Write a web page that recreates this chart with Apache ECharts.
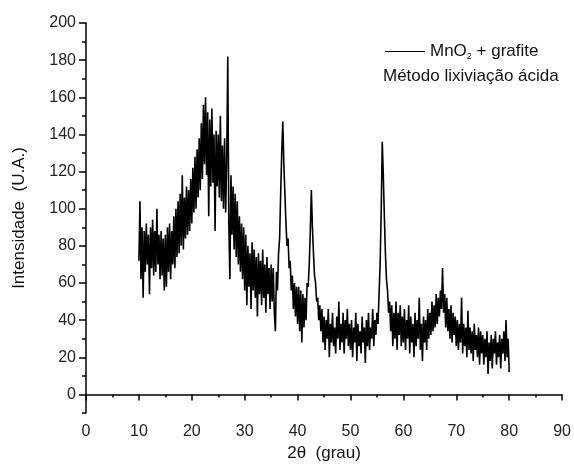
<!DOCTYPE html>
<html style="height: 100%">
<head>
    <meta charset="utf-8">
    <title>DRX MnO2 + grafite</title>
</head>
<body style="height: 100%; margin: 0; background: #fff">
<div id="container" style="width: 574px; height: 467px"></div>
<script type="text/javascript" src="https://cdn.jsdelivr.net/npm/echarts@6/dist/echarts.min.js"></script>
<script type="text/javascript">
    // 2theta grid: first angle and step (degrees)
    var angleStart = 10;
    var angleStep = 0.2;

    // intensity, one row = 5 degrees (25 points)
    var intensity = [
        72, 104, 62, 90, 52, 88, 66, 92, 70, 86, 54, 90, 68, 94, 64, 88, 66, 100, 70, 86, 62, 88, 64, 84, 56,           // 10
        86, 58, 90, 66, 92, 62, 88, 70, 96, 68, 100, 74, 104, 76, 108, 80, 118, 78, 106, 84, 112, 86, 110, 88, 116,     // 15
        92, 122, 98, 128, 100, 132, 106, 138, 110, 146, 116, 156, 124, 160, 118, 152, 96, 148, 112, 154, 114, 140, 88, 142, 112, // 20
        140, 106, 150, 104, 134, 100, 138, 98, 126, 182, 92, 62, 118, 86, 112, 78, 108, 74, 104, 70, 96, 66, 92, 62, 90, // 25
        56, 86, 48, 80, 58, 76, 46, 82, 56, 78, 52, 74, 42, 76, 54, 72, 48, 78, 52, 70, 44, 74, 54, 68, 46,             // 30
        70, 50, 68, 44, 34, 66, 56, 76, 84, 108, 130, 147, 124, 108, 92, 80, 84, 68, 72, 56, 64, 46, 60, 42, 58,        // 35
        38, 58, 34, 56, 28, 54, 36, 52, 40, 60, 58, 70, 88, 110, 90, 76, 64, 60, 50, 52, 40, 48, 34, 46, 28,            // 40
        42, 24, 40, 30, 46, 20, 38, 28, 44, 26, 36, 22, 42, 30, 50, 24, 38, 28, 44, 22, 40, 30, 46, 26, 38,             // 45
        24, 40, 20, 36, 28, 44, 18, 38, 26, 34, 22, 42, 28, 36, 17, 40, 26, 44, 24, 36, 30, 46, 26, 40, 32,             // 50
        44, 38, 54, 70, 98, 136, 118, 96, 76, 62, 56, 44, 50, 34, 48, 26, 44, 30, 50, 24, 44, 32, 48, 26, 42,           // 55
        28, 46, 24, 40, 30, 48, 22, 42, 28, 38, 20, 44, 26, 40, 30, 52, 24, 38, 18, 42, 28, 40, 24, 46, 30,             // 60
        44, 32, 50, 34, 48, 36, 54, 38, 52, 42, 56, 46, 68, 44, 54, 36, 52, 34, 46, 30, 48, 28, 44, 32, 42,             // 65
        26, 40, 24, 38, 28, 52, 22, 38, 26, 36, 20, 45, 24, 36, 22, 34, 18, 38, 24, 32, 20, 36, 16, 34, 22,             // 70
        32, 16, 30, 20, 34, 11, 28, 18, 32, 14, 30, 22, 34, 16, 28, 20, 32, 14, 30, 22, 34, 18, 40, 20, 30,             // 75
        12                                                                                                              // 80
    ];

    var yMajorTicks = [0, 20, 40, 60, 80, 100, 120, 140, 160, 180, 200];
    var yMinorTicks = [-10, 10, 30, 50, 70, 90, 110, 130, 150, 170, 190];

    var seriesName = 'MnO2 + grafite';
    var subtitle = 'Método lixiviação ácida';

    var points = intensity.map(function (v, i) {
        return [+(angleStart + i * angleStep).toFixed(2), v];
    });

    var font = 'Liberation Sans, Arial, sans-serif';
    var myChart = echarts.init(document.getElementById('container'));

    var option = {
        animation: false,
        backgroundColor: '#fff',
        grid: {left: 86, right: 8, top: 23, bottom: 54},
        title: {
            text: subtitle,
            left: 378, top: 63,
            textStyle: {fontFamily: font, fontSize: 17, fontWeight: 'normal', color: '#111'}
        },
        legend: {
            left: 380, top: 38,
            icon: 'rect', itemWidth: 40, itemHeight: 1, itemGap: 4,
            data: [seriesName],
            formatter: function () { return 'MnO{sub|2} + grafite'; },
            textStyle: {
                fontFamily: font, fontSize: 17, color: '#111',
                rich: {sub: {fontFamily: font, fontSize: 9, color: '#111', padding: [10, 0, 0, 0]}}
            }
        },
        xAxis: {
            type: 'value', min: 0, max: 90, interval: 10,
            name: '2θ  (grau)', nameLocation: 'middle', nameGap: 31,
            nameTextStyle: {fontFamily: font, fontSize: 17, color: '#111'},
            axisLine: {lineStyle: {color: '#000', width: 1.5}},
            axisTick: {length: 6, lineStyle: {color: '#000', width: 1.5}},
            minorTick: {show: true, splitNumber: 2, length: 3, lineStyle: {color: '#000', width: 1.5}},
            axisLabel: {fontFamily: font, fontSize: 16, color: '#222', margin: 11},
            splitLine: {show: false}
        },
        yAxis: [{
            type: 'value', min: -10, max: 200,
            name: 'Intensidade  (U.A.)', nameLocation: 'middle', nameGap: 58,
            nameTextStyle: {fontFamily: font, fontSize: 17, color: '#111'},
            axisLine: {show: true, lineStyle: {color: '#000', width: 1.5}},
            axisTick: {show: true, length: 7, customValues: yMajorTicks, lineStyle: {color: '#000', width: 1.5}},
            axisLabel: {fontFamily: font, fontSize: 16, color: '#222', margin: 10, customValues: yMajorTicks},
            splitLine: {show: false}
        }, {
            type: 'value', min: -10, max: 200, position: 'left',
            axisLine: {show: false},
            axisTick: {show: true, length: 4, customValues: yMinorTicks, lineStyle: {color: '#000', width: 1.5}},
            axisLabel: {show: false},
            splitLine: {show: false}
        }],
        series: [{
            name: seriesName,
            type: 'line',
            showSymbol: false,
            symbol: 'none',
            lineStyle: {color: '#000', width: 1.6},
            itemStyle: {color: '#000'},
            data: points
        }]
    };
    myChart.setOption(option);
</script>
</body>
</html>
